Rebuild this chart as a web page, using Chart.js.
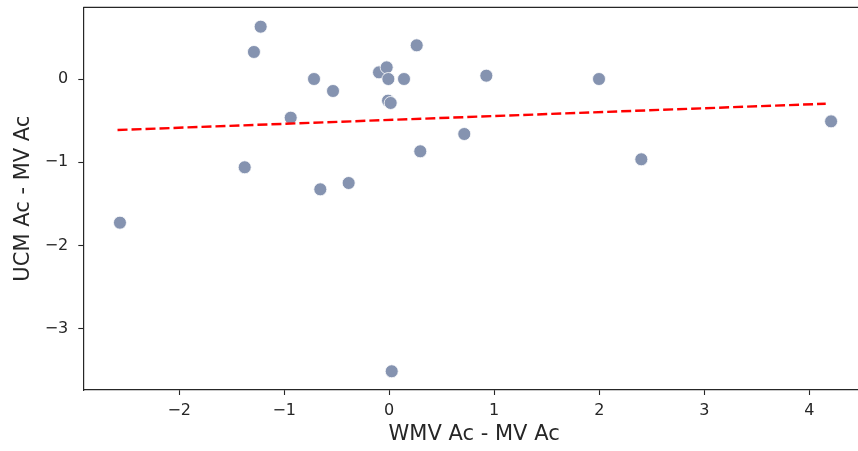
<!DOCTYPE html>
<html>
<head>
<meta charset="utf-8">
<script src="https://cdn.jsdelivr.net/npm/chart.js@4/dist/chart.umd.min.js"></script>
<style>
  html, body { margin: 0; padding: 0; background: #fff; overflow: hidden; }
  #wrap { width: 858px; height: 451px; overflow: hidden; }
</style>
</head>
<body>
<!-- the axes run a few pixels past the right edge of the view -->
<div id="wrap"><canvas id="scatter" width="865" height="451"></canvas></div>
<script>
// accuracy differences per subject
const wmvDiff = [-2.564, -1.224, -1.288, -1.376, -0.938, -0.716, -0.535, -0.656, -0.386,
                 -0.097, -0.024, -0.008, -0.011, 0.014, 0.141, 0.262, 0.296, 0.024,
                 0.925, 0.715, 1.998, 2.401, 4.208];
const ucmDiff = [-1.727, 0.629, 0.325, -1.061, -0.465, 0, -0.144, -1.326, -1.250,
                 0.080, 0.140, 0, -0.260, -0.288, 0, 0.405, -0.869, -3.513,
                 0.040, -0.661, 0, -0.965, -0.509];

// fitted line end points
const trendX = [-2.587, 4.157];
const trendY = [-0.613, -0.297];

const xTicks = [-2, -1, 0, 1, 2, 3, 4];
const yTicks = [0, -1, -2, -3];

const minusSign = v => String(v).replace('-', '\u2212');

// top and right spines (left and bottom come from the scale borders)
const framePlugin = {
    id: 'frame',
    afterDraw(chart) {
        const {ctx, chartArea: a} = chart;
        ctx.save();
        ctx.strokeStyle = '#262626';
        ctx.lineWidth = 1.2;
        ctx.beginPath();
        ctx.moveTo(a.left, a.top);
        ctx.lineTo(a.right, a.top);
        ctx.lineTo(a.right, a.bottom);
        ctx.stroke();
        ctx.restore();
    }
};

// fixed axis sizes, no extra label padding
const fixSize = (dim, size) => s => {
    s[dim] = size;
    s.paddingTop = s.paddingBottom = s.paddingLeft = s.paddingRight = 0;
};

const tickFont = { family: 'DejaVu Sans', size: 16 };
const titleFont = { family: 'DejaVu Sans', size: 21 };

new Chart(document.getElementById('scatter'), {
    type: 'scatter',
    data: {
        datasets: [{
            type: 'line',
            data: trendX.map((x, i) => ({ x: x, y: trendY[i] })),
            borderColor: '#ff0000',
            borderWidth: 2.4,
            borderDash: [10, 4],
            pointRadius: 0,
            fill: false,
            order: 0
        }, {
            data: wmvDiff.map((x, i) => ({ x: x, y: ucmDiff[i] })),
            backgroundColor: '#8593b0',
            borderColor: '#ffffff',
            borderWidth: 0.8,
            pointRadius: 6.5,
            order: 1
        }]
    },
    options: {
        responsive: false,
        animation: false,
        layout: { autoPadding: false, padding: { top: 7.3, right: 0, bottom: 0, left: 0 } },
        plugins: { legend: { display: false }, tooltip: { enabled: false } },
        scales: {
            x: {
                type: 'linear',
                min: -2.913,
                max: 4.531,
                afterFit: fixSize('height', 61),
                afterBuildTicks: s => { s.ticks = xTicks.map(v => ({ value: v })); },
                grid: { drawOnChartArea: false, tickLength: 5, tickColor: '#262626', tickWidth: 1.1 },
                border: { color: '#262626', width: 1.2 },
                ticks: { color: '#262626', font: tickFont, padding: 6, maxRotation: 0,
                         callback: v => minusSign(v) },
                title: { display: true, text: 'WMV Ac - MV Ac', color: '#262626', font: titleFont,
                         padding: { top: 0, bottom: 3.4 } }
            },
            y: {
                type: 'linear',
                min: -3.738,
                max: 0.862,
                afterFit: fixSize('width', 83.3),
                afterBuildTicks: s => { s.ticks = yTicks.map(v => ({ value: v })); },
                grid: { drawOnChartArea: false, tickLength: 5, tickColor: '#262626', tickWidth: 1.1 },
                border: { color: '#262626', width: 1.2 },
                ticks: { color: '#262626', font: tickFont, padding: 10,
                         callback: v => minusSign(v) },
                title: { display: true, text: 'UCM Ac - MV Ac', color: '#262626', font: titleFont,
                         padding: { top: 11.4, bottom: 0 } }
            }
        }
    },
    plugins: [framePlugin]
});
</script>
</body>
</html>
